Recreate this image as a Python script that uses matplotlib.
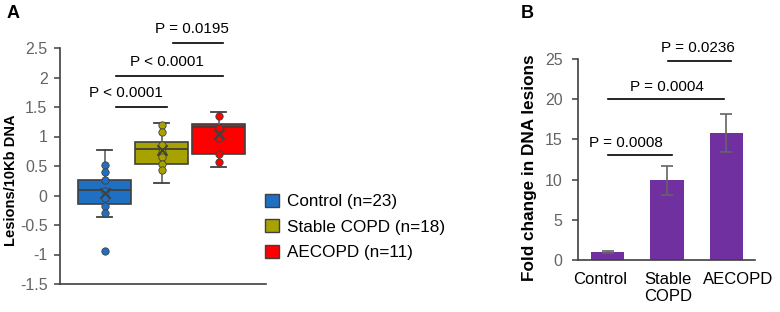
import matplotlib.pyplot as plt
import matplotlib.transforms as mtransforms
from matplotlib.patches import Patch
from matplotlib.ticker import FuncFormatter

plt.rcParams['font.family'] = ['Liberation Sans', 'DejaVu Sans']
plt.rcParams['axes.unicode_minus'] = False

# panel A: box stats
groups = ['Control (n=23)', 'Stable COPD (n=18)', 'AECOPD (n=11)']
box_colors = ['#1f6fc2', '#a8a200', '#ff0000']
medians = [0.10, 0.78, 1.16]
q1 = [-0.15, 0.53, 0.71]
q3 = [0.27, 0.91, 1.22]
whis_lo = [-0.36, 0.22, 0.48]
whis_hi = [0.77, 1.23, 1.42]
means = [0.05, 0.77, 1.04]
outliers = [[-0.94], [], []]
points = [
    [0.51, 0.40, 0.27, 0.08, -0.04, -0.17, -0.29],
    [1.19, 1.08, 0.85, 0.73, 0.65, 0.53, 0.43],
    [1.35, 1.15, 0.98, 0.71, 0.57],
]
sig_a = ['P < 0.0001', 'P < 0.0001', 'P = 0.0195']

# panel B: fold change bars
bar_labels = ['Control', 'Stable\nCOPD', 'AECOPD']
fold = [1.0, 9.9, 15.8]
fold_err = [0.12, 1.8, 2.4]
sig_b = ['P = 0.0008', 'P = 0.0004', 'P = 0.0236']

gray = '#646464'
edge = '#404040'

fig = plt.figure(figsize=(7.8, 3.12), dpi=100)
ax1 = fig.add_axes([60 / 780, 28 / 312, 206 / 780, 236 / 312])
ax2 = fig.add_axes([578 / 780, 52 / 312, 177 / 780, 201 / 312])

# --- panel A
stats = []
for i in range(3):
    stats.append(dict(med=medians[i], q1=q1[i], q3=q3[i], whislo=whis_lo[i],
                      whishi=whis_hi[i], mean=means[i], fliers=[]))
pos = [1, 2, 3]
bp = ax1.bxp(stats, positions=pos, widths=0.93, patch_artist=True, showmeans=False,
             capwidths=0.27, showfliers=False,
             medianprops=dict(color=edge, linewidth=1.3),
             whiskerprops=dict(color=gray, linewidth=1.2),
             capprops=dict(color=edge, linewidth=1.3),
             boxprops=dict(edgecolor=edge, linewidth=1.2))
for patch, c in zip(bp['boxes'], box_colors):
    patch.set_facecolor(c)

for i in range(3):
    ys = points[i] + outliers[i]
    ax1.scatter([pos[i]] * len(ys), ys, s=28, facecolor=box_colors[i], edgecolor=edge,
                linewidth=0.6, zorder=4)
    ax1.scatter([pos[i]], [means[i]], marker='x', s=55, color=edge, linewidth=1.4, zorder=5)

ax1.set_xlim(0.22, 3.83)
ax1.set_ylim(-1.5, 2.5)
ax1.set_yticks([-1.5, -1, -0.5, 0, 0.5, 1, 1.5, 2, 2.5])
ax1.yaxis.set_major_formatter(FuncFormatter(lambda v, p: '%g' % v))
ax1.set_xticks([])
for s in ['top', 'right']:
    ax1.spines[s].set_visible(False)
for s in ['left', 'bottom']:
    ax1.spines[s].set_color(edge)
    ax1.spines[s].set_linewidth(1.2)
ax1.tick_params(axis='y', colors=edge, labelcolor=gray, labelsize=11.5, length=4, width=1.1, pad=5)
ax1.set_ylabel('Lesions/10Kb DNA', fontsize=10.5, fontweight='bold')
ax1.yaxis.set_label_coords(-0.203, 0.44)

bars_a = [(1.21, 2.09, 1.50, 1.37), (1.21, 3.07, 2.03, 2.09), (2.20, 3.07, 2.59, 2.53)]
for (x1, x2, y, tx), lab in zip(bars_a, sig_a):
    ax1.plot([x1, x2], [y, y], color='black', linewidth=1.2, clip_on=False)
    ax1.text(tx, y + 0.12, lab, ha='center', va='bottom', fontsize=11, clip_on=False)

handles = [Patch(facecolor=c, edgecolor=edge, linewidth=1.0) for c in box_colors]
fig.legend(handles, groups, loc='upper left', bbox_to_anchor=(265 / 780, 1 - 194 / 312),
           frameon=False, fontsize=12.3, handlelength=0.8, handleheight=0.8,
           handletextpad=0.5, labelspacing=0.58, borderpad=0, borderaxespad=0)

# --- panel B
ax2.bar(pos, fold, width=0.56, color='#7030a0', yerr=fold_err, capsize=4,
        error_kw=dict(ecolor=gray, elinewidth=1.2, capthick=1.2))
ax2.set_xlim(0.5, 3.48)
ax2.set_ylim(0, 25)
ax2.set_yticks([0, 5, 10, 15, 20, 25])
ax2.set_xticks(pos)
ax2.set_xticklabels(bar_labels, fontsize=12, linespacing=1.15)
ax2.tick_params(axis='x', length=0, pad=9)
# labels sit a little off-centre in the original
shifts = [-8, 1, 12]
for lab, dx in zip(ax2.get_xticklabels(), shifts):
    lab.set_transform(lab.get_transform() + mtransforms.ScaledTranslation(dx / 100, 0, fig.dpi_scale_trans))
ax2.tick_params(axis='y', colors=edge, labelcolor=gray, labelsize=11.5, length=4, width=1.1, pad=7)
for s in ['top', 'right']:
    ax2.spines[s].set_visible(False)
for s in ['left', 'bottom']:
    ax2.spines[s].set_color(edge)
    ax2.spines[s].set_linewidth(1.2)
ax2.set_ylabel('Fold change in DNA lesions', fontsize=12.3, fontweight='bold')
ax2.yaxis.set_label_coords(-0.232, 0.458)

bars_b = [(1.01, 2.09, 13.0, 1.31), (1.01, 2.95, 20.0, 1.99), (2.01, 3.07, 24.75, 2.52)]
for (x1, x2, y, tx), lab in zip(bars_b, sig_b):
    ax2.plot([x1, x2], [y, y], color='black', linewidth=1.2, clip_on=False)
    ax2.text(tx, y + 0.7, lab, ha='center', va='bottom', fontsize=11, clip_on=False)

fig.text(13 / 780, 1 - 14 / 312, 'A', fontsize=13, fontweight='bold', ha='center', va='center')
fig.text(527 / 780, 1 - 13 / 312, 'B', fontsize=13, fontweight='bold', ha='center', va='center')

fig.savefig('out.png', dpi=100)
